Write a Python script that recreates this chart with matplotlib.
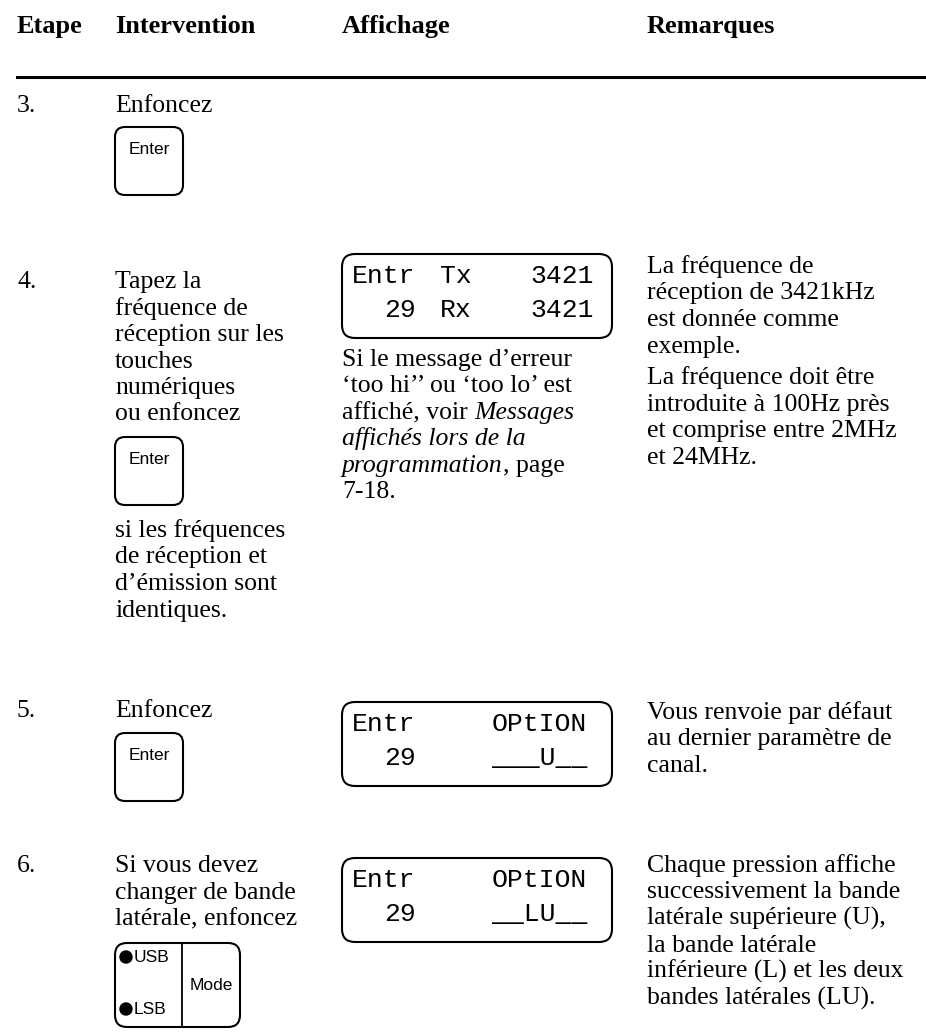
import matplotlib
matplotlib.use("Agg")
import matplotlib.pyplot as plt
from matplotlib.patches import FancyBboxPatch, Circle

# page text, column by column
headers = ["Etape", "Intervention", "Affichage", "Remarques"]
header_x = [17, 115, 342, 647]

steps = ["3.", "4.", "5.", "6."]
step_y = [112, 288, 717, 872]

interv_3 = ["Enfoncez"]
interv_4a = ["Tapez la", "fréquence de", "réception sur les", "touches",
             "numériques", "ou enfoncez"]
interv_4b = ["si les fréquences", "de réception et", "d\u2019émission sont",
             "identiques."]
interv_5 = ["Enfoncez"]
interv_6 = ["Si vous devez", "changer de bande", "latérale, enfoncez"]

# (regular, italic, regular) pieces per line
affich_4 = [("Si le message d\u2019erreur", "", ""),
            ("\u2018too hi\u2019\u2019 ou \u2018too lo\u2019 est", "", ""),
            ("affiché, voir ", "Messages", ""),
            ("", "affichés lors de la", ""),
            ("", "programmation", ", page"),
            ("7-18.", "", "")]

rem_4a = ["La fréquence de", "réception de 3421kHz", "est donnée comme",
          "exemple."]
rem_4b = ["La fréquence doit être", "introduite à 100Hz près",
          "et comprise entre 2MHz", "et 24MHz."]
rem_5 = ["Vous renvoie par défaut", "au dernier paramètre de", "canal."]
rem_6 = ["Chaque pression affiche", "successivement la bande",
         "latérale supérieure (U),", "la bande latérale",
         "inférieure (L) et les deux", "bandes latérales (LU)."]

# LCD contents: (left, middle, right) per row
lcd_4 = [("Entr", "Tx", "3421"), ("29", "Rx", "3421")]
lcd_5 = [("Entr", "", "OPtION"), ("29", "", "___U__")]
lcd_6 = [("Entr", "", "OPtION"), ("29", "", "__LU__")]

serif = "Liberation Serif"
sans = "Liberation Sans"
mono = "Liberation Mono"
body = 18.5
lh = 26.5

fig = plt.figure(figsize=(9.26, 10.35), dpi=100)
ax = fig.add_axes([0, 0, 1, 1])
ax.set_xlim(0, 926)
ax.set_ylim(1035, 0)
ax.axis("off")

for h, x in zip(headers, header_x):
    ax.text(x, 33, h, family=serif, weight="bold", fontsize=19,
            va="baseline")
ax.plot([17, 926], [77, 77], color="black", lw=2.2)

for s, y in zip(steps, step_y):
    ax.text(17, y, s, family=serif, fontsize=body, va="baseline")


def lines(x, y0, rows):
    for i, r in enumerate(rows):
        ax.text(x, y0 + i * lh, r, family=serif, fontsize=body,
                va="baseline")


def key(x, y, label):
    ax.add_patch(FancyBboxPatch((x, y), 68, 68,
                                boxstyle="round,pad=0,rounding_size=10",
                                fc="white", ec="black", lw=1.5))
    ax.text(x + 34, y + 23, label, family=sans, fontsize=12.5,
            ha="center", va="center")


def lcd(x, y, rows):
    ax.add_patch(FancyBboxPatch((x, y), 270, 84,
                                boxstyle="round,pad=0,rounding_size=13",
                                fc="white", ec="black", lw=1.5))
    for i, (a, b, c) in enumerate(rows):
        yy = y + 22 + i * 34
        xa = x + 10 if i == 0 else x + 42
        ax.text(xa, yy, a, family=mono, fontsize=19, va="center")
        ax.text(x + 98, yy, b, family=mono, fontsize=19, va="center")
        xc = x + 188 if b else x + 150
        ax.text(xc, yy, c, family=mono, fontsize=19, va="center")


# step 3
lines(115, 112, interv_3)
key(115, 127, "Enter")

# step 4
lines(115, 288, interv_4a)
key(115, 437, "Enter")
lines(115, 537, interv_4b)
lcd(342, 254, lcd_4)
fig.canvas.draw()
renderer = fig.canvas.get_renderer()
for i, (a, b, c) in enumerate(affich_4):
    x = 342
    y = 366 + i * lh
    for part, style in ((a, "normal"), (b, "italic"), (c, "normal")):
        if not part:
            continue
        t = ax.text(x, y, part, family=serif, fontsize=body, va="baseline",
                    style=style)
        x = t.get_window_extent(renderer).x1
lines(647, 273, rem_4a)
lines(647, 384, rem_4b)

# step 5
lines(115, 717, interv_5)
key(115, 733, "Enter")
lcd(342, 702, lcd_5)
lines(647, 719, rem_5)

# step 6
lines(115, 872, interv_6)
ax.add_patch(FancyBboxPatch((115, 943), 125, 84,
                            boxstyle="round,pad=0,rounding_size=12",
                            fc="white", ec="black", lw=1.5))
ax.plot([182, 182], [943, 1027], color="black", lw=1.3)
for yy, lab in ((957, "USB"), (1009, "LSB")):
    ax.add_patch(Circle((126, yy), 6, color="black"))
    ax.text(134, yy, lab, family=sans, fontsize=12.5, va="center")
ax.text(211, 985, "Mode", family=sans, fontsize=12.5, ha="center",
        va="center")
lcd(342, 858, lcd_6)
lines(647, 872, rem_6)

fig.savefig("out.png", dpi=100)
